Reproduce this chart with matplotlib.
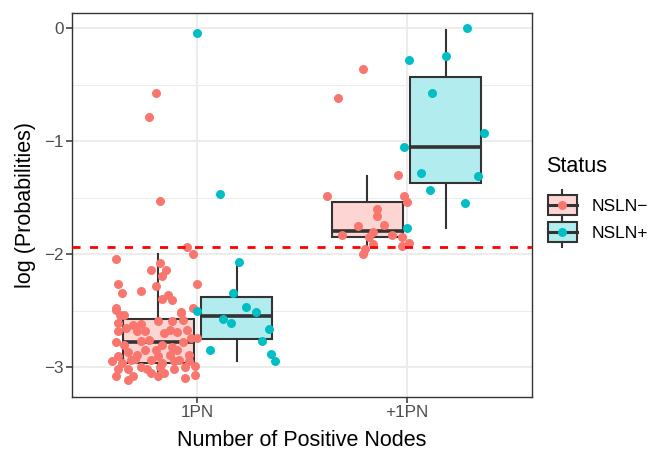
import matplotlib
matplotlib.use("Agg")
import matplotlib.pyplot as plt
from matplotlib.legend_handler import HandlerBase
from matplotlib.patches import Rectangle
from matplotlib.lines import Line2D
import numpy as np

plt.rcParams['font.family'] = ['Liberation Sans', 'DejaVu Sans']

# ---------------- data ----------------
categories = ["1PN", "+1PN"]
statuses = ["NSLN\u2212", "NSLN+"]
legend_title = "Status"
threshold = -1.94

# Box statistics: (whislo, q1, med, q3, whishi)
box_neg = [(-3.11, -2.96, -2.78, -2.57, -2.00),
           (-2.00, -1.85, -1.79, -1.54, -1.31)]
box_pos = [(-2.95, -2.75, -2.55, -2.38, -2.07),
           (-1.77, -1.37, -1.05, -0.43, -0.01)]

# Jittered points: offset from category centre, value
neg_1pn_jit = [-0.20, -0.23, -0.18, -0.05, -0.02, -0.39, -0.18, -0.22, -0.15, -0.17,
               -0.38, 0.00, -0.20, -0.36, -0.27, -0.14, -0.17, -0.12, -0.39, -0.08,
               -0.02, -0.39, -0.35, -0.08, -0.07, -0.12, -0.19, -0.38, -0.31, -0.27,
               -0.25, -0.29, -0.38, -0.13, -0.10, 0.00, -0.03, -0.39, -0.27, -0.17,
               -0.07, -0.25, -0.20, -0.10, -0.38, -0.33, -0.29, -0.19, -0.13, -0.04,
               -0.36, -0.32, -0.22, -0.17, -0.09, -0.38, -0.33, -0.27, -0.22, -0.16,
               -0.11, -0.06, -0.39, -0.33, -0.19, -0.06, -0.01, -0.01, -0.34, -0.23,
               -0.12, -0.30, -0.05, -0.37, -0.16, -0.24, -0.04, -0.35, -0.11, -0.41,
               -0.18, -0.31]
neg_1pn_val = [-0.57, -0.78, -1.53, -1.94, -2.00, -2.04, -2.08, -2.14, -2.14, -2.19,
               -2.26, -2.26, -2.28, -2.34, -2.33, -2.36, -2.40, -2.41, -2.48, -2.51,
               -2.48, -2.49, -2.54, -2.52, -2.58, -2.59, -2.59, -2.61, -2.63, -2.62,
               -2.68, -2.68, -2.68, -2.67, -2.69, -2.74, -2.74, -2.78, -2.77, -2.80,
               -2.78, -2.85, -2.85, -2.85, -2.90, -2.87, -2.89, -2.90, -2.89, -2.89,
               -2.96, -2.94, -2.94, -2.96, -2.94, -3.02, -3.02, -3.00, -3.05, -3.05,
               -3.02, -3.00, -3.08, -3.11, -3.08, -3.10, -3.07, -2.99, -2.65, -2.76,
               -2.82, -2.93, -2.67, -2.54, -2.70, -3.02, -2.95, -2.80, -2.95, -2.95,
               -3.00, -3.08]

pos_1pn_jit = [0.00, 0.11, 0.20, 0.17, 0.00, 0.23, 0.28, 0.12, 0.16, 0.34, 0.31, 0.06, 0.35, 0.37]
pos_1pn_val = [-0.04, -1.47, -2.07, -2.34, -2.50, -2.47, -2.51, -2.57, -2.61, -2.66, -2.77, -2.85, -2.88, -2.95]

neg_p1pn_jit = [-0.21, -0.33, -0.38, -0.04, -0.01, 0.00, -0.14, -0.14, -0.23, -0.11,
                -0.16, -0.31, -0.18, -0.07, -0.02, -0.16, 0.01, -0.02, -0.20, -0.21]
neg_p1pn_val = [-0.36, -0.62, -1.48, -1.30, -1.48, -1.54, -1.60, -1.66, -1.75, -1.74,
                -1.80, -1.83, -1.85, -1.83, -1.85, -1.91, -1.90, -1.93, -1.95, -2.00]

pos_p1pn_jit = [0.29, 0.01, 0.19, 0.12, 0.37, -0.01, 0.07, 0.34, 0.11, 0.28, 0.00]
pos_p1pn_val = [-0.00, -0.28, -0.24, -0.57, -0.93, -1.05, -1.28, -1.31, -1.43, -1.55, -1.77]

# ---------------- style ----------------
RED = "#F8766D"
CYAN = "#00BFC4"
RED_FILL = "#FDD6D3"
CYAN_FILL = "#B3ECEE"
DARK = "#333333"
GRID = "#EBEBEB"
TICKC = "#4D4D4D"

fig = plt.figure(figsize=(6.53, 4.5), dpi=100)
ax = fig.add_axes([72/653, 53/450, 460/653, 384/450])

xpos = np.arange(1, len(categories) + 1)
dodge = 0.1875
bw = 0.3375

def stats_list(boxes):
    out = []
    for lo, q1, med, q3, hi in boxes:
        out.append(dict(whislo=lo, q1=q1, med=med, q3=q3, whishi=hi, fliers=[]))
    return out

for boxes, sign, fill in [(box_neg, -1, RED_FILL), (box_pos, 1, CYAN_FILL)]:
    ax.bxp(stats_list(boxes), positions=xpos + sign * dodge, widths=bw,
           patch_artist=True, showcaps=False, showfliers=False,
           boxprops=dict(facecolor=fill, edgecolor=DARK, linewidth=1.5),
           whiskerprops=dict(color=DARK, linewidth=1.5),
           medianprops=dict(color=DARK, linewidth=2.6, solid_capstyle='butt'),
           manage_ticks=False, zorder=3)

ms = 42
for jit, val, c, color in [(neg_1pn_jit, neg_1pn_val, 0, RED),
                           (pos_1pn_jit, pos_1pn_val, 0, CYAN),
                           (neg_p1pn_jit, neg_p1pn_val, 1, RED),
                           (pos_p1pn_jit, pos_p1pn_val, 1, CYAN)]:
    ax.scatter(xpos[c] + np.array(jit), val, s=ms, color=color, linewidths=0, zorder=4)

ax.axhline(threshold, color="#FF0000", linewidth=2.0, linestyle=(0, (2.9, 3.4)), zorder=5)

ax.set_xlim(0.4, 2.6)
ax.set_ylim(-3.265, 0.137)
ax.set_xticks(xpos)
ax.set_xticklabels(categories)
ax.set_yticks([0, -1, -2, -3])
ax.set_yticks([-0.5, -1.5, -2.5], minor=True)
ax.grid(which='major', color=GRID, linewidth=1.3, zorder=0)
ax.grid(which='minor', axis='y', color=GRID, linewidth=0.7, zorder=0)
ax.set_axisbelow(True)
ax.tick_params(which='major', length=4, width=1.1, color=DARK, labelcolor=TICKC,
               labelsize=12.3, pad=2)
ax.tick_params(which='minor', length=0)
for sp in ax.spines.values():
    sp.set_color(DARK)
    sp.set_linewidth(1.0)

ax.set_xlabel("Number of Positive Nodes", fontsize=15.5, color="black")
ax.set_ylabel("log (Probabilities)", fontsize=15.5, color="black")
ax.xaxis.set_label_coords(0.5, -0.085)
ax.yaxis.set_label_coords(-0.079, 0.5)

# ---------------- legend ----------------
class BoxKey(HandlerBase):
    def __init__(self, fill, dot):
        super().__init__()
        self.fill = fill
        self.dot = dot

    def create_artists(self, legend, orig_handle, xdescent, ydescent,
                       width, height, fontsize, trans):
        x0, y0 = -xdescent, -ydescent
        cx = x0 + width / 2
        cy = y0 + height / 2
        bh = 14.4  # points (about 20 px)
        wl = 3.6
        rect = Rectangle((x0, cy - bh / 2), width, bh, facecolor=self.fill,
                         edgecolor=DARK, linewidth=1.5, transform=trans)
        med = Line2D([x0, x0 + width], [cy, cy], color=DARK,
                     linewidth=2.2, transform=trans)
        w1 = Line2D([cx, cx], [cy + bh / 2, cy + bh / 2 + wl], color=DARK,
                    linewidth=1.5, transform=trans)
        w2 = Line2D([cx, cx], [cy - bh / 2, cy - bh / 2 - wl], color=DARK,
                    linewidth=1.5, transform=trans)
        dot = Line2D([cx], [cy], marker='o', markersize=6.5,
                     markerfacecolor=self.dot, markeredgewidth=0,
                     linestyle='none', transform=trans)
        return [rect, med, w1, w2, dot]

fig.text(546/653, 1 - 172/450, legend_title, fontsize=15.5, ha='left', va='baseline')

h1 = Rectangle((0, 0), 1, 1)
h2 = Rectangle((0, 0), 1, 1)
leg = fig.legend([h1, h2], statuses,
                 handler_map={h1: BoxKey(RED_FILL, RED), h2: BoxKey(CYAN_FILL, CYAN)},
                 loc='upper left', bbox_to_anchor=(548/653, 1 - 195/450),
                 frameon=False, fontsize=12.5,
                 handlelength=1.67, handleheight=1.4, handletextpad=0.85,
                 labelspacing=0.39, borderpad=0, borderaxespad=0)

fig.savefig("out.png", dpi=100)
